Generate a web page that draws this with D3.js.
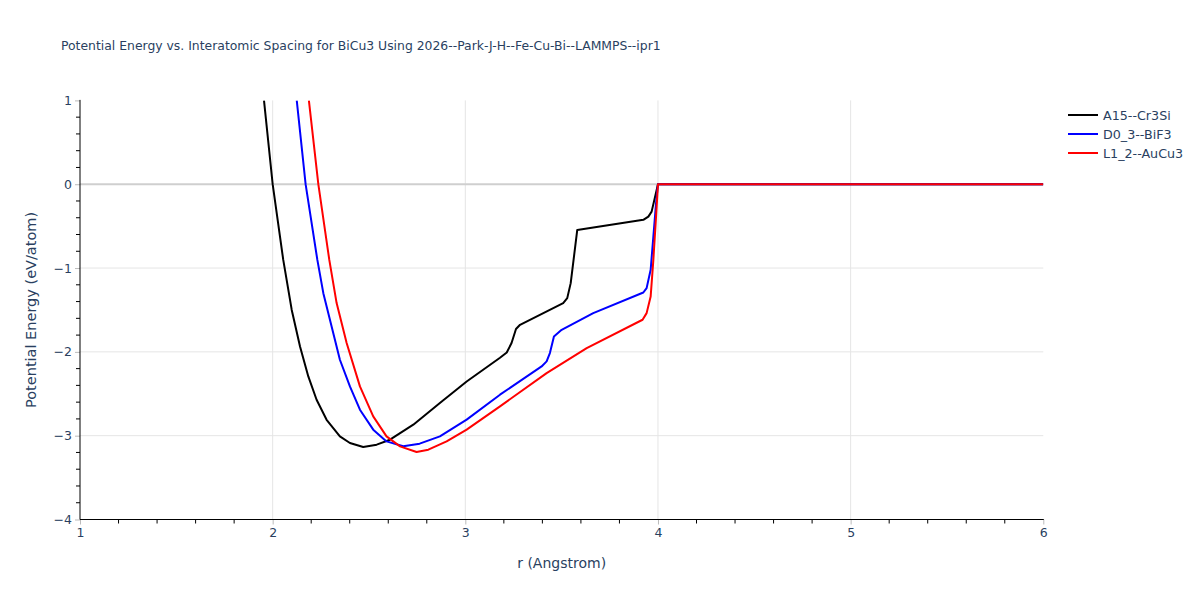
<!DOCTYPE html>
<html lang="en">
<head>
<meta charset="UTF-8">
<title>Potential Energy vs. Interatomic Spacing</title>
<script src="https://d3js.org/d3.v7.min.js"></script>
<style>
    body { margin: 0; background: #fff; }
    text { font-family: Verdana, "DejaVu Sans", sans-serif; fill: #2a3f5f; }
    .grid line { stroke: #e5e5e5; stroke-width: 1px; }
    .zero { stroke: #cfcfcf; stroke-width: 2px; }
</style>
</head>
<body>
<svg width="1200" height="600"></svg>
<script>

const titleText = "Potential Energy vs. Interatomic Spacing for BiCu3 Using 2026--Park-J-H--Fe-Cu-Bi--LAMMPS--ipr1";
const seriesNames = ["A15--Cr3Si", "D0_3--BiF3", "L1_2--AuCu3"];
const seriesColors = ["black", "blue", "red"];

// A15--Cr3Si
const r_A15 = [1.955, 2.0, 2.055, 2.099, 2.142, 2.185, 2.228, 2.28, 2.349, 2.401, 2.47, 2.54, 2.609, 2.73, 2.868, 3.007, 3.18, 3.215, 3.24, 3.263, 3.284, 3.508, 3.529, 3.547, 3.581, 3.924, 3.95, 3.967, 4.0, 6.0];
const e_A15 = [1.0, 0.0, -0.903, -1.5, -1.936, -2.293, -2.571, -2.81, -3.008, -3.087, -3.135, -3.107, -3.048, -2.869, -2.61, -2.353, -2.07, -2.007, -1.895, -1.728, -1.677, -1.418, -1.359, -1.18, -0.545, -0.425, -0.386, -0.327, 0.0, 0.0];

// D0_3--BiF3
const r_D03 = [2.125, 2.171, 2.232, 2.263, 2.306, 2.349, 2.401, 2.453, 2.522, 2.591, 2.678, 2.763, 2.868, 3.007, 3.18, 3.396, 3.422, 3.439, 3.46, 3.5, 3.664, 3.924, 3.941, 3.962, 3.976, 3.99, 4.0, 6.0];
const e_D03 = [1.0, 0.0, -0.903, -1.3, -1.697, -2.094, -2.412, -2.69, -2.928, -3.068, -3.127, -3.095, -3.008, -2.809, -2.511, -2.174, -2.114, -2.014, -1.816, -1.737, -1.538, -1.292, -1.24, -1.021, -0.625, -0.227, 0.0, 0.0];

// L1_2--AuCu3
const r_L12 = [2.188, 2.237, 2.294, 2.332, 2.384, 2.453, 2.522, 2.591, 2.661, 2.747, 2.808, 2.903, 3.007, 3.18, 3.422, 3.63, 3.92, 3.941, 3.962, 3.976, 3.99, 4.0, 6.0];
const e_L12 = [1.0, 0.0, -0.903, -1.418, -1.895, -2.412, -2.77, -3.008, -3.127, -3.194, -3.167, -3.068, -2.928, -2.65, -2.253, -1.955, -1.617, -1.538, -1.34, -0.902, -0.386, 0.0, 0.0];

const xTicks = [1, 2, 3, 4, 5, 6];
const yTicks = [1, 0, -1, -2, -3, -4];

const allR = [r_A15, r_D03, r_L12];
const allE = [e_A15, e_D03, e_L12];

const svg = d3.select("svg");
const plotLeft = 80, plotRight = 1043.3, plotTop = 100.4, plotBottom = 519.5;

const x = d3.scaleLinear().domain([1, 6]).range([plotLeft, plotRight]);
const y = d3.scaleLinear().domain([-4, 1]).range([plotBottom, plotTop]);

svg.append("defs").append("clipPath").attr("id", "plotclip")
    .append("rect").attr("x", plotLeft).attr("y", plotTop)
    .attr("width", plotRight - plotLeft).attr("height", plotBottom - plotTop);

// grid
const grid = svg.append("g").attr("class", "grid");
grid.selectAll(".vx").data(xTicks.filter(d => d > 1 && d < 6)).enter().append("line")
    .attr("x1", d => x(d)).attr("x2", d => x(d)).attr("y1", plotTop).attr("y2", plotBottom);
grid.selectAll(".hy").data(yTicks.filter(d => d < 0 && d > -4)).enter().append("line")
    .attr("x1", plotLeft).attr("x2", plotRight).attr("y1", d => y(d)).attr("y2", d => y(d));
svg.append("line").attr("class", "zero")
    .attr("x1", plotLeft).attr("x2", plotRight).attr("y1", y(0)).attr("y2", y(0));

// lines
const line = d3.line().x(d => x(d[0])).y(d => y(d[1]));
const plot = svg.append("g").attr("clip-path", "url(#plotclip)");
allR.forEach(function (rs, i) {
    const pts = rs.map((r, j) => [r, allE[i][j]]);
    plot.append("path").datum(pts)
        .attr("d", line)
        .attr("fill", "none")
        .attr("stroke", seriesColors[i])
        .attr("stroke-width", 2)
        .attr("stroke-linejoin", "round");
});

// axes
const xMinor = d3.range(1, 6.001, 0.2).filter(d => Math.abs(d - Math.round(d)) > 0.01);
const yMinor = d3.range(-4, 1.001, 0.2).filter(d => Math.abs(d - Math.round(d)) > 0.01);

const xAxis = d3.axisBottom(x).tickValues(xTicks).tickSize(5).tickPadding(4).tickFormat(d3.format("d"));
const gx = svg.append("g").attr("transform", `translate(0,${plotBottom})`).call(xAxis);
gx.select(".domain").remove();
gx.selectAll(".tick line").attr("stroke", "#bbb");
gx.selectAll("text").style("font-size", "12.5px").attr("fill", "#2a3f5f");
svg.append("g").selectAll("line").data(xMinor).enter().append("line")
    .attr("x1", d => x(d)).attr("x2", d => x(d)).attr("y1", plotBottom).attr("y2", plotBottom + 4)
    .attr("stroke", "#000");

const yAxis = d3.axisLeft(y).tickValues(yTicks).tickSize(5).tickPadding(3).tickFormat(d3.format("d"));
const gy = svg.append("g").attr("transform", `translate(${plotLeft},0)`).call(yAxis);
gy.select(".domain").remove();
gy.selectAll(".tick line").attr("stroke", "#bbb");
gy.selectAll("text").style("font-size", "12.5px").attr("fill", "#2a3f5f");
svg.append("g").selectAll("line").data(yMinor).enter().append("line")
    .attr("x1", plotLeft - 4).attr("x2", plotLeft).attr("y1", d => y(d)).attr("y2", d => y(d))
    .attr("stroke", "#000");

svg.append("line").attr("x1", plotLeft).attr("x2", plotRight + 0.5)
    .attr("y1", plotBottom).attr("y2", plotBottom).attr("stroke", "#000");
svg.append("line").attr("x1", plotLeft).attr("x2", plotLeft)
    .attr("y1", plotTop - 0.5).attr("y2", plotBottom).attr("stroke", "#000");

// titles
svg.append("text").attr("x", 61).attr("y", 50).style("font-size", "12.4px").text(titleText);
svg.append("text").attr("x", (plotLeft + plotRight) / 2).attr("y", 568).attr("text-anchor", "middle")
    .style("font-size", "14px").text("r (Angstrom)");
svg.append("text").attr("transform", `translate(36,${(plotTop + plotBottom) / 2}) rotate(-90)`)
    .attr("text-anchor", "middle").style("font-size", "14.5px").text("Potential Energy (eV/atom)");

// legend
const legend = svg.append("g").attr("transform", "translate(1068,115)");
seriesNames.forEach(function (name, i) {
    const g = legend.append("g").attr("transform", `translate(0,${i * 19})`);
    g.append("line").attr("x1", 0).attr("x2", 30).attr("y1", 0).attr("y2", 0)
        .attr("stroke", seriesColors[i]).attr("stroke-width", 2);
    g.append("text").attr("x", 35).attr("y", 4.5).style("font-size", "12.7px").text(name);
});

</script>
</body>
</html>
